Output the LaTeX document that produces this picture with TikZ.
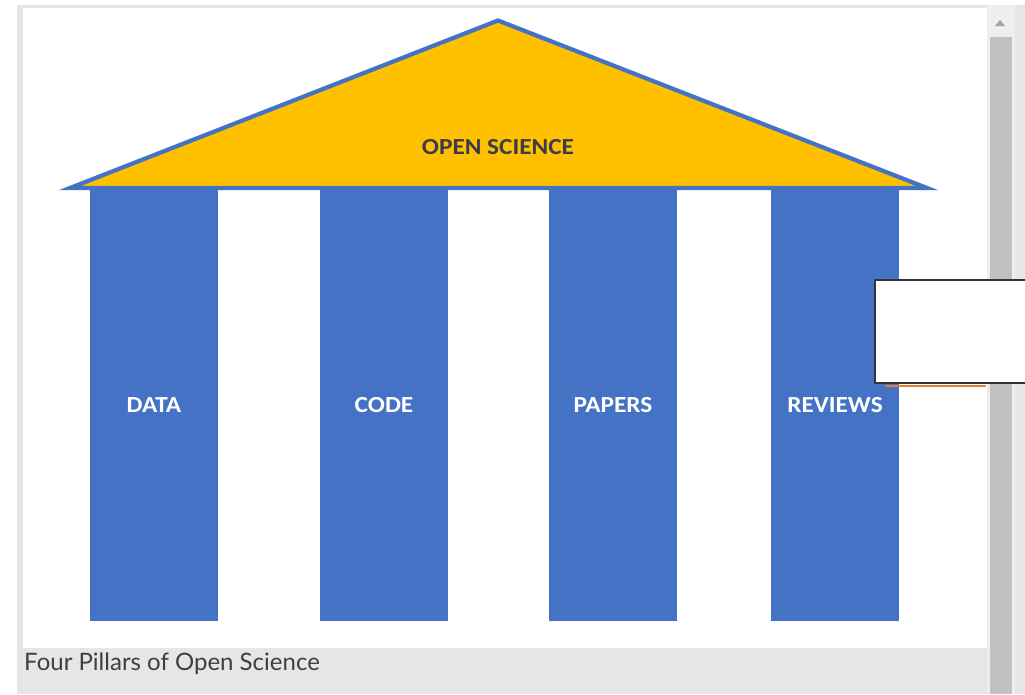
\documentclass[tikz,border=0pt]{standalone}
\usepackage{fontspec}
\setmainfont{Carlito}
\newfontfamily\labfont[FakeStretch=1.1]{Carlito}
\newfontfamily\capfont{Lato}
\definecolor{pillarblue}{HTML}{4472C4}
\definecolor{roofyellow}{HTML}{FFC000}
\definecolor{frame}{HTML}{E6E6E6}
\definecolor{track}{HTML}{EEEEEE}
\definecolor{thumb}{HTML}{C1C1C1}
\definecolor{captxt}{HTML}{3F3F3F}
\definecolor{rooftxt}{HTML}{3A3D45}
\definecolor{accent}{HTML}{ED7D31}
\begin{document}
\begin{tikzpicture}[x=1pt,y=-1pt,
  pillar/.style={fill=pillarblue, draw=none, minimum width=128pt, minimum height=433pt, anchor=north west, inner sep=0pt},
  pillarlabel/.style={text=white, font=\labfont\fontsize{23}{23}\selectfont\bfseries},
  rooflabel/.style={text=rooftxt, font=\labfont\fontsize{23}{23}\selectfont\bfseries}]
\useasboundingbox (0,0) rectangle (1025,694);
\fill[white] (0,0) rectangle (1025,694);
% frame
\fill[frame] (17,5) rectangle (1025,694);
\fill[white] (23,8) rectangle (987,648);
% scrollbar
\fill[track] (987,5) rectangle (1015,694);
\fill[thumb] (990,37) rectangle (1012,694);
\fill[gray!70] (995,26) -- (1005,26) -- (1000,20) -- cycle;
% pillars
\node[pillar] (data) at (90,188) {};
\node[pillar] (code) at (320,188) {};
\node[pillar] (papers) at (549,188) {};
\node[pillar] (reviews) at (771,188) {};
\node[pillarlabel] at (154,405) {DATA};
\node[pillarlabel] at (384,405) {CODE};
\node[pillarlabel] at (613,405) {PAPERS};
\node[pillarlabel] at (835,405) {REVIEWS};
% roof
\coordinate (apex) at (498,20.5);
\coordinate (bl) at (70,188);
\coordinate (br) at (927,188);
\draw[fill=roofyellow, draw=pillarblue, line width=4.2pt, line join=miter] (apex) -- (br) -- (bl) -- cycle;
\node[rooflabel] (roof) at (498,147) {OPEN SCIENCE};
% caption
\node[anchor=west, text=captxt, font=\capfont\fontsize{24}{24}\selectfont, inner sep=0pt] (caption) at (24,664) {Four Pillars of Open Science};
% overlay box
\draw[accent, line width=2pt] (885,385.5) -- (986,385.5);
\draw[fill=white, draw=black!80, line width=2pt] (875,280) rectangle (1030,383);
\end{tikzpicture}
\end{document}
